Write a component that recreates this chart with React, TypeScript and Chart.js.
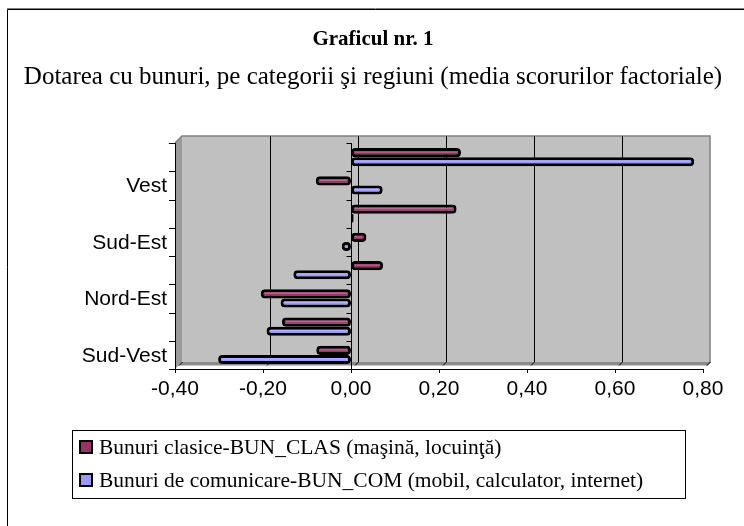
import React, { useEffect, useRef } from "react";
import { Chart, registerables } from "chart.js";

Chart.register(...registerables);

// ---- data ----
const categories = ["Bucureşti", "Vest", "Centru", "Sud-Est", "Nord-Vest", "Nord-Est", "Sud", "Sud-Vest"];
const shownCategoryIndex = [1, 3, 5, 7];
const bunClas = [0.25, -0.08, 0.24, 0.035, 0.073, -0.205, -0.157, -0.079];
const bunCom = [0.78, 0.072, 0.006, -0.021, -0.131, -0.16, -0.192, -0.302];
const xTicks = [-0.4, -0.2, 0, 0.2, 0.4, 0.6, 0.8];
const seriesLabels = [
  "Bunuri clasice-BUN_CLAS (maşină, locuinţă)",
  "Bunuri de comunicare-BUN_COM (mobil, calculator, internet)",
];
const seriesColors = ["#993366", "#9999FF"];
const seriesHighlights = ["#B86A90", "#B3B3FF"];
const titleText = "Graficul nr. 1";
const subtitleText = "Dotarea cu bunuri, pe categorii şi regiuni (media scorurilor factoriale)";

const fmt = (v: number) => v.toFixed(2).replace(".", ",").replace("-0,00", "0,00");

const DX = 7;
const DY = -7;

const decorPlugin = {
  id: "decor",
  beforeDatasetsDraw(chart: any) {
    const ctx = chart.ctx as CanvasRenderingContext2D;
    const a = chart.chartArea;
    const xs = chart.scales.x;
    ctx.save();
    // outer frame
    ctx.strokeStyle = "#808080";
    ctx.lineWidth = 1;
    ctx.beginPath();
    ctx.moveTo(7, 8.5);
    ctx.lineTo(744, 8.5);
    ctx.stroke();
    ctx.strokeStyle = "#000";
    ctx.beginPath();
    ctx.moveTo(7.5, 526);
    ctx.lineTo(7.5, 9.5);
    ctx.lineTo(744, 9.5);
    ctx.stroke();

    // back wall
    const bl = a.left + DX, bt = a.top + DY, br = a.right + DX, bb = a.bottom + DY;
    ctx.fillStyle = "#C0C0C0";
    ctx.fillRect(bl, bt, br - bl, bb - bt);
    // left wall
    ctx.fillStyle = "#9A9A9A";
    ctx.beginPath();
    ctx.moveTo(a.left, a.top);
    ctx.lineTo(bl, bt);
    ctx.lineTo(bl, bb);
    ctx.lineTo(a.left, a.bottom);
    ctx.closePath();
    ctx.fill();
    // floor
    ctx.fillStyle = "#8C8C8C";
    ctx.beginPath();
    ctx.moveTo(bl, bb);
    ctx.lineTo(br, bb);
    ctx.lineTo(br - 3.5, bb + 3.5);
    ctx.lineTo(bl - 3.5, bb + 3.5);
    ctx.closePath();
    ctx.fill();
    // wall borders
    ctx.strokeStyle = "#808080";
    ctx.lineWidth = 1.5;
    ctx.beginPath();
    ctx.moveTo(a.left, a.top);
    ctx.lineTo(bl, bt);
    ctx.lineTo(br, bt);
    ctx.lineTo(br, bb);
    ctx.lineTo(br - 3.5, bb + 3.5);
    ctx.stroke();

    // gridlines on back wall + floor diagonals
    ctx.strokeStyle = "#000";
    ctx.lineWidth = 1;
    xTicks.forEach((v, i) => {
      const px = Math.round(xs.getPixelForValue(v)) + 0.5;
      if (i > 0 && i < xTicks.length - 1) {
        ctx.beginPath();
        ctx.moveTo(px + DX, bt);
        ctx.lineTo(px + DX, bb);
        ctx.stroke();
      }
      ctx.beginPath();
      ctx.moveTo(px + DX, bb);
      ctx.lineTo(px + DX - 3.5, bb + 3.5);
      ctx.stroke();
    });

    // left axis line and ticks
    const ys = chart.scales.y;
    const n = categories.length;
    const band = (a.bottom - a.top) / n;
    ctx.beginPath();
    ctx.moveTo(a.left + 0.5, a.top);
    ctx.lineTo(a.left + 0.5, a.bottom);
    for (let i = 0; i <= n; i++) {
      const yy = Math.round(ys.getPixelForValue(0) - band / 2 + i * band) + 0.5;
      ctx.moveTo(a.left - 6, yy);
      ctx.lineTo(a.left, yy);
    }
    ctx.stroke();

    // bottom axis line and ticks
    ctx.beginPath();
    ctx.moveTo(a.left, a.bottom + 0.5);
    ctx.lineTo(a.right, a.bottom + 0.5);
    xTicks.forEach((v) => {
      const px = Math.round(xs.getPixelForValue(v)) + 0.5;
      ctx.moveTo(px, a.bottom);
      ctx.lineTo(px, a.bottom + 4);
    });
    ctx.stroke();
    ctx.restore();
  },
  afterDatasetsDraw(chart: any) {
    const ctx = chart.ctx as CanvasRenderingContext2D;
    const a = chart.chartArea;
    const xs = chart.scales.x;
    const ys = chart.scales.y;
    ctx.save();
    // highlight stripes on bars
    chart.data.datasets.forEach((ds: any, di: number) => {
      const meta = chart.getDatasetMeta(di);
      meta.data.forEach((el: any) => {
        const p = el.getProps(["x", "y", "base", "height"], true);
        const x0 = Math.min(p.x, p.base) + 4;
        const x1 = Math.max(p.x, p.base) - 4;
        if (x1 - x0 < 2) return;
        ctx.strokeStyle = seriesHighlights[di];
        ctx.lineWidth = 1.2;
        ctx.beginPath();
        ctx.moveTo(x0, p.y - p.height * 0.05);
        ctx.lineTo(x1, p.y - p.height * 0.05);
        ctx.stroke();
      });
    });
    // zero category axis with ticks
    const n = categories.length;
    const band = (a.bottom - a.top) / n;
    const zx = Math.round(xs.getPixelForValue(0)) + 0.5;
    ctx.strokeStyle = "#000";
    ctx.lineWidth = 1;
    ctx.beginPath();
    ctx.moveTo(zx, a.top);
    ctx.lineTo(zx, a.bottom);
    for (let i = 0; i <= n; i++) {
      const yy = Math.round(ys.getPixelForValue(0) - band / 2 + i * band) + 0.5;
      ctx.moveTo(zx - 5, yy);
      ctx.lineTo(zx, yy);
    }
    ctx.stroke();
    ctx.restore();
  },
  afterDraw(chart: any) {
    const ctx = chart.ctx as CanvasRenderingContext2D;
    const a = chart.chartArea;
    const xs = chart.scales.x;
    const ys = chart.scales.y;
    ctx.save();
    ctx.fillStyle = "#000";
    // title
    ctx.textAlign = "center";
    ctx.textBaseline = "middle";
    ctx.font = "bold 21px 'Liberation Serif'";
    ctx.fillText(titleText, 373, 40);
    ctx.font = "25px 'Liberation Serif'";
    ctx.fillText(subtitleText, 373, 77);

    // y labels
    ctx.font = "21px 'Liberation Sans'";
    ctx.textAlign = "right";
    ctx.textBaseline = "middle";
    shownCategoryIndex.forEach((i) => {
      ctx.fillText(categories[i], a.left - 8, ys.getPixelForValue(i) + 1);
    });
    // x labels
    ctx.textAlign = "center";
    ctx.textBaseline = "top";
    xTicks.forEach((v) => {
      ctx.fillText(fmt(v), xs.getPixelForValue(v), a.bottom + 10);
    });

    // legend
    ctx.strokeStyle = "#000";
    ctx.lineWidth = 1;
    ctx.strokeRect(72.5, 430.5, 613, 68);
    ctx.font = "21.5px 'Liberation Serif'";
    ctx.textAlign = "left";
    ctx.textBaseline = "middle";
    const rows = [447, 480];
    chart.data.datasets.forEach((ds: any, di: number) => {
      const cy = rows[di];
      ctx.fillStyle = ds.backgroundColor;
      ctx.fillRect(80, cy - 6, 12, 12);
      ctx.lineWidth = 2;
      ctx.strokeStyle = "#000";
      ctx.strokeRect(80, cy - 6, 12, 12);
      ctx.fillStyle = "#000";
      ctx.fillText(ds.label, 99, cy + 1);
    });
    ctx.restore();
  },
};

export default function App() {
  const ref = useRef<HTMLCanvasElement | null>(null);
  useEffect(() => {
    if (!ref.current) return;
    const common = {
      borderColor: "#000",
      borderWidth: 3,
      borderRadius: 4,
      borderSkipped: false,
      categoryPercentage: 0.64,
      barPercentage: 1,
    };
    const chart = new Chart(ref.current, {
      type: "bar",
      data: {
        labels: categories,
        datasets: [
          { label: seriesLabels[0], data: bunClas, backgroundColor: seriesColors[0], ...common },
          { label: seriesLabels[1], data: bunCom, backgroundColor: seriesColors[1], ...common },
        ],
      },
      options: {
        indexAxis: "y",
        responsive: false,
        animation: false,
        devicePixelRatio: 1,
        layout: { padding: { left: 175, right: 41, top: 143, bottom: 157 } },
        scales: {
          x: { type: "linear", min: -0.4, max: 0.8, display: false },
          y: { type: "category", display: false, offset: true },
        },
        plugins: {
          legend: { display: false },
          title: { display: false },
          tooltip: { enabled: false },
        },
      },
      plugins: [decorPlugin],
    } as any);
    return () => chart.destroy();
  }, []);
  return (
    <div style={{ position: "fixed", left: 0, top: 0, width: 744, height: 526, background: "#fff" }}>
      <canvas ref={ref} width={744} height={526} style={{ display: "block", width: 744, height: 526 }} />
    </div>
  );
}
